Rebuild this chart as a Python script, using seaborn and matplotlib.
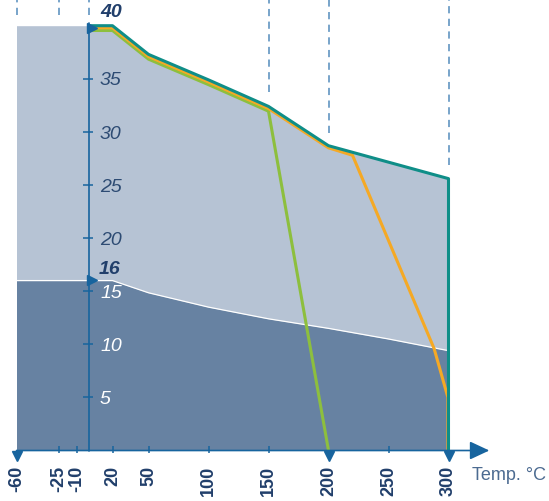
import matplotlib
matplotlib.use("Agg")
import matplotlib.pyplot as plt
import seaborn as sns
import pandas as pd

# pressure / temperature envelope
env_temp = [-60, 20, 50, 100, 150, 200, 300]
env_press = [40, 40, 37.3, 34.9, 32.4, 28.7, 25.6]
low_temp = [-60, 20, 50, 100, 150, 200, 250, 300]
low_press = [16, 16, 14.85, 13.5, 12.4, 11.5, 10.5, 9.4]

teal_t = [0, 20, 50, 100, 150, 200, 300, 300]
teal_p = [40, 40, 37.3, 34.9, 32.4, 28.7, 25.6, 0]
orange_t = [0, 20, 50, 100, 150, 200, 220, 288, 299.5, 299.5]
orange_p = [39.8, 39.8, 37.1, 34.7, 32.2, 28.5, 27.8, 9.6, 5, 0]
green_t = [0, 20, 50, 100, 150, 200]
green_p = [39.55, 39.55, 36.85, 34.45, 31.95, 0]

xtick_vals = [-60, -25, -10, 20, 50, 100, 150, 200, 250, 300]
xtick_small = [-25, -10, 20, 50, 100, 150, 250]
xtick_arrow = [-60, 200, 300]
ytick_vals = [5, 10, 15, 20, 25, 30, 35]
dash_t = [-60, -25, 0, 150, 200, 300]
dash_end = [41.0, 41.0, 41.0, 33.8, 29.9, 26.9]

c_light = "#b6c3d4"
c_dark = "#6782a2"
c_axis = "#17649e"
c_text = "#213f6b"

sns.set_style("white")
plt.rcParams['font.family'] = ['Liberation Sans', 'DejaVu Sans']

fig = plt.figure(figsize=(5.49, 5.01), dpi=100)
ax = fig.add_axes([0, 0, 1, 1])
ax.set_xlim(-73.75, 383.75)
ax.set_ylim(-4.755, 42.42)
ax.axis('off')

# filled areas
ax.fill_between(env_temp, 0, env_press, color=c_light, lw=0)
ax.fill_between(low_temp, 0, low_press, color=c_dark, lw=0)
ax.plot(low_temp, low_press, color='white', lw=0.9)

# dashed guide lines at top
ax.vlines(dash_t, dash_end, 42.42, colors="#6d9dc6", lw=1.3, linestyles=(0, (4, 3)))

# curves
lines = pd.concat([
    pd.DataFrame({'t': green_t, 'p': green_p, 's': 'g'}),
    pd.DataFrame({'t': orange_t, 'p': orange_p, 's': 'o'}),
    pd.DataFrame({'t': teal_t, 'p': teal_p, 's': 't'}),
])
sns.lineplot(data=lines, x='t', y='p', hue='s', sort=False, estimator=None,
             palette={'g': '#8dbf3e', 'o': '#f5a925', 't': '#0f8e88'},
             lw=2.2, legend=False, ax=ax)

# axes
ax.plot([0, 0], [0, 40.3], color=c_axis, lw=1.2)
ax.annotate('', xy=(334, 0), xytext=(-60, 0),
            arrowprops=dict(arrowstyle='-|>,head_length=0.6,head_width=0.28',
                            color=c_axis, lw=1.2, mutation_scale=20,
                            shrinkA=0, shrinkB=0))
ax.hlines(ytick_vals, -4.8, 3.5, colors=c_axis, lw=1.1)
ax.vlines(xtick_small, -0.2, 0.45, colors=c_axis, lw=1.1)
ax.plot(xtick_arrow, [-0.55] * len(xtick_arrow), ls='none', marker='v',
        ms=7.5, color=c_axis)
ax.plot([3.2, 3.2], [39.8, 16.05], ls='none', marker='>', ms=7.5, color=c_axis)

# y labels
for v in ytick_vals:
    col = 'white' if v < 16 else '#2d4b73'
    ax.text(9.6, v - 0.2, str(v), ha='left', va='center', fontsize=14,
            style='italic', color=col)
ax.text(19.3, 41.2, '40', ha='center', va='center', fontsize=14,
        style='italic', weight='bold', color=c_text)
ax.text(17.3, 17.05, '16', ha='center', va='center', fontsize=14,
        style='italic', weight='bold', color=c_text)

# x labels
for v in xtick_vals:
    ax.text(v, -1.45, str(v), rotation=90, ha='center', va='top',
            fontsize=13, weight='bold', color=c_text)
ax.text(319.6, -2.35, 'Temp. °C', ha='left', va='center', fontsize=13,
        color='#4c6b91')

fig.savefig('out.png', dpi=100)
